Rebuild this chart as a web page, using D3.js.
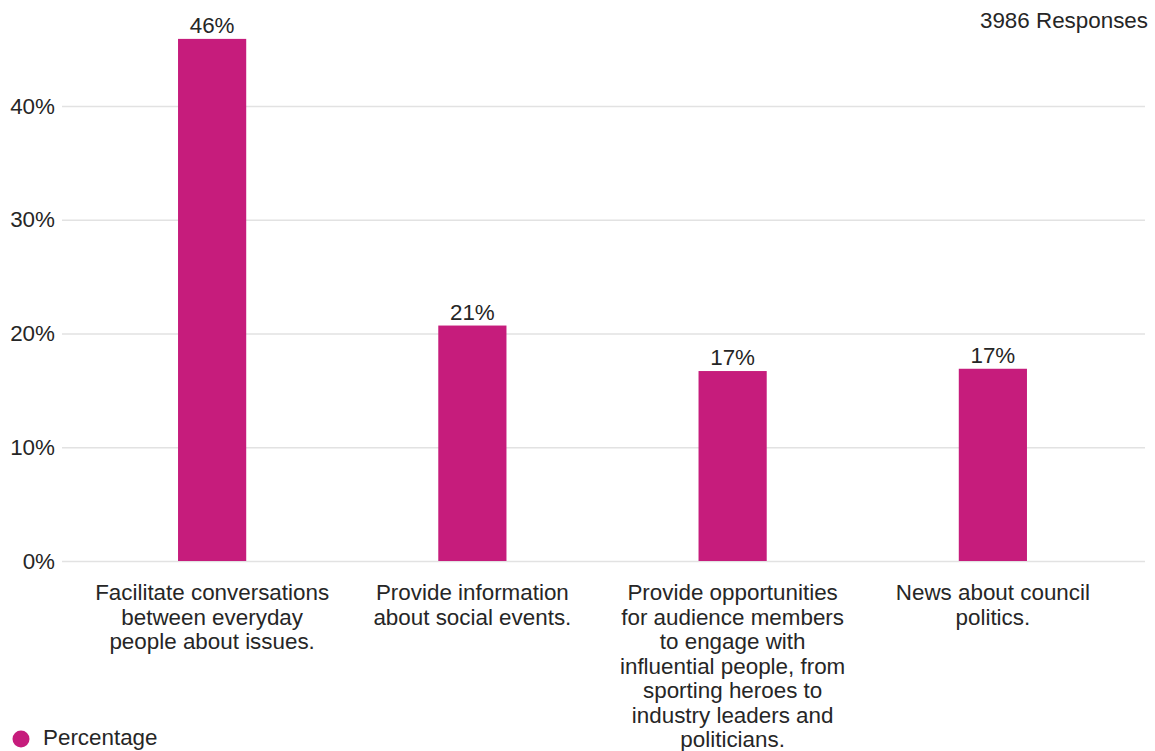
<!DOCTYPE html>
<html>
<head>
<meta charset="utf-8">
<script src="https://cdn.jsdelivr.net/npm/d3@7"></script>
<style>
  html, body { margin: 0; padding: 0; background: #fff; }
  svg { display: block; font-family: Arial, "Liberation Sans", sans-serif; }
</style>
</head>
<body>
<svg id="chart" width="1155" height="751"></svg>
<script>
// Survey answers: share of respondents per option
const categories = [
  "Facilitate conversations between everyday people about issues.",
  "Provide information about social events.",
  "Provide opportunities for audience members to engage with influential people, from sporting heroes to industry leaders and politicians.",
  "News about council politics."
];
const categoryLines = [
  ["Facilitate conversations", "between everyday", "people about issues."],
  ["Provide information", "about social events."],
  ["Provide opportunities", "for audience members", "to engage with", "influential people, from", "sporting heroes to", "industry leaders and", "politicians."],
  ["News about council", "politics."]
];
const percentages = [0.459, 0.207, 0.167, 0.169];
const yTicks = [0, 0.1, 0.2, 0.3, 0.4];
const seriesName = "Percentage";
const responseNote = "3986 Responses";

const barColor = "#c61c7c";
const textColor = "#262626";
const gridColor = "#e2e2e2";
const fontSize = "22.4px";

const svg = d3.select("#chart");

const x = d3.scaleBand()
  .domain(categories)
  .range([82, 1123])
  .paddingInner(0.738)
  .paddingOuter(0.369);

const y = d3.scaleLinear()
  .domain([0, 0.4])
  .range([561, 106]);

// horizontal grid + y labels
const yAxis = d3.axisLeft(y)
  .tickValues(yTicks)
  .tickFormat(d3.format(".0%"))
  .tickSize(-(1145 - 62))
  .tickPadding(7);

const gy = svg.append("g")
  .attr("transform", "translate(62,0)")
  .call(yAxis);
gy.select(".domain").remove();
gy.attr("font-family", null).attr("font-size", null);
gy.selectAll(".tick line")
  .attr("stroke", gridColor)
  .attr("stroke-width", 1.5);
gy.selectAll(".tick text")
  .attr("fill", textColor)
  .attr("font-size", fontSize);

// bars
svg.append("g")
  .selectAll("rect")
  .data(percentages)
  .join("rect")
  .attr("x", (d, i) => x(categories[i]))
  .attr("width", x.bandwidth())
  .attr("y", d => y(d))
  .attr("height", d => y(0) - y(d))
  .attr("fill", barColor);

// value labels
svg.append("g")
  .selectAll("text")
  .data(percentages)
  .join("text")
  .attr("x", (d, i) => x(categories[i]) + x.bandwidth() / 2)
  .attr("y", d => y(d) - 6)
  .attr("text-anchor", "middle")
  .attr("fill", textColor)
  .attr("font-size", fontSize)
  .text(d => d3.format(".0%")(d));

// category labels, wrapped
const cat = svg.append("g")
  .selectAll("text")
  .data(categories)
  .join("text")
  .attr("x", d => x(d) + x.bandwidth() / 2)
  .attr("y", 600)
  .attr("text-anchor", "middle")
  .attr("fill", textColor)
  .attr("font-size", fontSize);
cat.selectAll("tspan")
  .data((d, i) => categoryLines[i])
  .join("tspan")
  .attr("x", function() { return this.parentNode.getAttribute("x"); })
  .attr("dy", (d, j) => j === 0 ? 0 : 24.5)
  .text(d => d);

// response count
svg.append("text")
  .attr("x", 1148)
  .attr("y", 28)
  .attr("text-anchor", "end")
  .attr("fill", textColor)
  .attr("font-size", fontSize)
  .text(responseNote);

// legend
const legend = svg.append("g");
legend.append("circle")
  .attr("cx", 21)
  .attr("cy", 739)
  .attr("r", 8.5)
  .attr("fill", barColor);
legend.append("text")
  .attr("x", 43)
  .attr("y", 745)
  .attr("fill", textColor)
  .attr("font-size", fontSize)
  .text(seriesName);
</script>
</body>
</html>
